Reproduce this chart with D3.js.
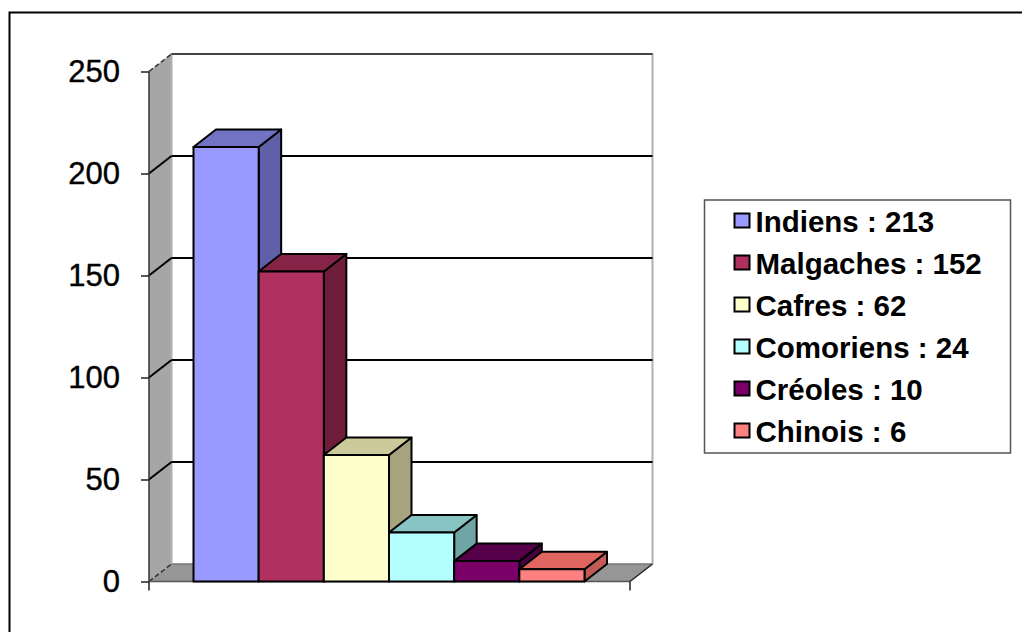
<!DOCTYPE html>
<html><head><meta charset="utf-8">
<script src="https://cdn.jsdelivr.net/npm/d3@7"></script>
<style>html,body{margin:0;padding:0;background:#fff}svg{display:block}text{font-family:"Liberation Sans",Arial,sans-serif}</style>
</head><body><div id="c"></div>
<script>
const categories=["Indiens","Malgaches","Cafres","Comoriens","Créoles","Chinois"];
const values=[213,152,62,24,10,6];
const frontColors=["#9999ff","#b03060","#ffffcc","#b3ffff","#7a0068","#ff8080"];
const topColors=["#7373c4","#862447","#ccc99b","#88c4c4","#560049","#e0645f"];
const sideColors=["#6060a8","#6e1d3b","#a6a47e","#6fa5a5","#470040","#c25a56"];
const yTicks=[0,50,100,150,200,250];

const W=1022,H=632,dx=22.5,dy=17.5;
const svg=d3.select("#c").append("svg").attr("width",W).attr("height",H);
svg.append("path").attr("d",`M9.5 ${H}V12.5H${W}`).attr("fill","none").attr("stroke","#000").attr("stroke-width",2);

const y=d3.scaleLinear().domain([0,250]).range([581.5,71.5]);
const x=d3.scaleBand().domain(categories).range([193.5,584.5]);
const L=149,R=630;
const pts=a=>a.map(p=>p.join(",")).join(" ");

// walls
svg.append("polygon").attr("points",pts([[L,y(0)],[L,y(250)],[L+dx,y(250)-dy],[L+dx,y(0)-dy]])).attr("fill","#a6a6a6");
svg.append("polygon").attr("points",pts([[L,y(0)],[R,y(0)],[R+dx,y(0)-dy],[L+dx,y(0)-dy]])).attr("fill","#969696");
svg.append("path").attr("d",`M${L+dx} ${y(0)-dy}V${y(250)-dy}H${R+dx}V${y(0)-dy}`).attr("fill","none").attr("stroke","#b0b0b0").attr("stroke-width",2);

// gridlines
yTicks.forEach(t=>{
  const back=y(t)-dy, dashed=(t===0||t===250);
  svg.append("line").attr("x1",L).attr("y1",y(t)).attr("x2",L+dx).attr("y2",back)
    .attr("stroke",dashed?"#333":"#000").attr("stroke-width",dashed?1.5:2).attr("stroke-dasharray",dashed?"5 2.5":null);
  if(t>0) svg.append("line").attr("x1",L+dx).attr("y1",back).attr("x2",R+dx).attr("y2",back)
    .attr("stroke",t===250?"#444":"#000").attr("stroke-width",2);
});
svg.append("line").attr("x1",L+dx).attr("y1",y(0)-dy).attr("x2",R+dx).attr("y2",y(0)-dy).attr("stroke","#777").attr("stroke-width",1.5);
svg.append("line").attr("x1",R).attr("y1",y(0)).attr("x2",R+dx).attr("y2",y(0)-dy).attr("stroke","#222").attr("stroke-width",1.5);

// axes
const ax=svg.append("g").attr("transform",`translate(${L},0)`)
  .call(d3.axisLeft(y).tickValues(yTicks).tickSize(8).tickPadding(21));
ax.select(".domain").attr("d",`M0 ${y(250)}V${y(0)}`).attr("stroke","#333").attr("stroke-width",1.5);
ax.selectAll(".tick line").attr("stroke","#222").attr("stroke-width",1.5);
ax.selectAll("text").attr("font-size",31).attr("fill","#000").attr("stroke","#000").attr("stroke-width",0.4).style("font-family",'"Liberation Sans",Arial,sans-serif');
svg.append("line").attr("x1",L).attr("y1",y(0)).attr("x2",R).attr("y2",y(0)).attr("stroke","#555").attr("stroke-width",1.5);
[L,R].forEach(v=>svg.append("line").attr("x1",v).attr("x2",v).attr("y1",y(0)).attr("y2",y(0)+9).attr("stroke","#222").attr("stroke-width",1.5));

// bars, left to right so each front face overlaps the previous side face
const bars=svg.append("g").attr("stroke","#000").attr("stroke-width",2).attr("stroke-linejoin","round");
const rows=categories.map((c,i)=>({c,v:values[i],i}));
rows.forEach(d=>{
  const a=x(d.c),b=a+x.bandwidth(),t=y(d.v),z=y(0);
  bars.append("polygon").attr("points",pts([[b,z],[b,t],[b+dx,t-dy],[b+dx,z-dy]])).attr("fill",sideColors[d.i]);
  bars.append("polygon").attr("points",pts([[a,t],[b,t],[b+dx,t-dy],[a+dx,t-dy]])).attr("fill",topColors[d.i]);
  bars.append("rect").attr("x",a).attr("y",t).attr("width",x.bandwidth()).attr("height",z-t).attr("fill",frontColors[d.i]);
});

// legend
svg.append("rect").attr("x",704.5).attr("y",200).attr("width",306).attr("height",253).attr("fill","#fff").attr("stroke","#555").attr("stroke-width",1.5);
const ly=d3.scalePoint().domain(categories).range([221,431]);
rows.forEach(d=>{
  svg.append("rect").attr("x",734.5).attr("y",ly(d.c)-7.5).attr("width",15).attr("height",14).attr("fill",frontColors[d.i]).attr("stroke","#000").attr("stroke-width",2);
  svg.append("text").attr("x",755.5).attr("y",ly(d.c)+10.5).attr("font-size",29.5).attr("font-weight","bold").text(`${d.c} : ${d.v}`);
});
</script></body></html>
